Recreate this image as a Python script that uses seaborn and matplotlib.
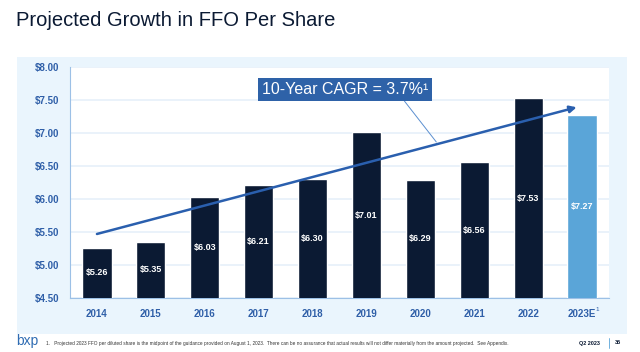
import pandas as pd
import seaborn as sns
import matplotlib.pyplot as plt
from matplotlib.patches import Rectangle

years = ["2014", "2015", "2016", "2017", "2018", "2019", "2020", "2021", "2022", "2023E"]
ffo = [5.26, 5.35, 6.03, 6.21, 6.30, 7.01, 6.29, 6.56, 7.53, 7.27]
value_labels = ["$5.26", "$5.35", "$6.03", "$6.21", "$6.30", "$7.01", "$6.29", "$6.56", "$7.53", "$7.27"]
y_ticks = [4.5, 5.0, 5.5, 6.0, 6.5, 7.0, 7.5, 8.0]
trend_start = 5.47
trend_end = 7.39

navy = "#0b1a33"
light = "#5aa5d8"
tick_blue = "#2f5fa8"

df = pd.DataFrame({"year": years, "ffo": ffo})

sns.set_style("white")
plt.rcParams["font.family"] = ["Liberation Sans", "DejaVu Sans"]

fig = plt.figure(figsize=(6.4, 3.52), dpi=100)
# light blue panel behind the chart
panel = Rectangle((17 / 640, 1 - 334 / 352), 610 / 640, 277 / 352,
                  transform=fig.transFigure, facecolor="#eaf5fd",
                  edgecolor="none", zorder=-10)
fig.patches.append(panel)
ax = fig.add_axes([70 / 640, 1 - 298 / 352, 539 / 640, 231 / 352])
ax.set_zorder(1)
ax.set_facecolor("white")

palette = [navy] * 9 + [light]
sns.barplot(data=df, x="year", y="ffo", hue="year", palette=palette,
            legend=False, width=0.54, ax=ax, zorder=3, saturation=1)

ax.set_ylim(4.5, 8.0)
ax.set_xlim(-0.5, 9.5)
ax.set_yticks(y_ticks)
ax.set_yticklabels([f"${t:.2f}" for t in y_ticks])
ax.yaxis.grid(True, color="#e6f0fa", linewidth=1.2, zorder=0)
ax.set_axisbelow(True)
ax.set_xlabel("")
ax.set_ylabel("")
for s in ["top", "right"]:
    ax.spines[s].set_visible(False)
for s in ["left", "bottom"]:
    ax.spines[s].set_color("#9cc0e6")
ax.tick_params(axis="both", length=0, labelsize=7, labelcolor=tick_blue, pad=8)
ax.set_xticks(range(len(years)))
ax.set_xticklabels(years)
for lab in ax.get_xticklabels() + ax.get_yticklabels():
    lab.set_fontweight("bold")
# footnote marker on 2023E
ax.annotate("1", xy=(9, 4.5), xytext=(10, -8), textcoords="offset points",
            fontsize=4.5, color=tick_blue, ha="left", va="center", annotation_clip=False)

for i, (v, lab) in enumerate(zip(ffo, value_labels)):
    ax.text(i, (4.5 + v) / 2, lab, ha="center", va="center", color="white",
            fontsize=6.5, fontweight="bold", zorder=5)

ax.annotate("", xy=(8.9, trend_end), xytext=(0, trend_start),
            arrowprops=dict(arrowstyle="-|>", color="#2a5fae", lw=1.8,
                            mutation_scale=10, shrinkA=0, shrinkB=0), zorder=6)

# callout leader line + box
ax.plot([(405 - 70) / 54 - 0.5, (437 - 70) / 54 - 0.5],
        [4.5 + (298 - 101) / 66, 4.5 + (298 - 142) / 66],
        color="#5b8fd0", lw=0.7, zorder=6, clip_on=False)
fig.text(345 / 640, 1 - 89.5 / 352, "10-Year CAGR = 3.7%¹", ha="center", va="center",
         color="white", fontsize=11.5, zorder=10,
         bbox=dict(boxstyle="square,pad=0.25", facecolor="#2e62a8", edgecolor="none"))

fig.text(16 / 640, 1 - 21 / 352, "Projected Growth in FFO Per Share", fontsize=14.5,
         color="#0b1a33", va="center", ha="left")
fig.text(16 / 640, 1 - 341 / 352, "bxp", fontsize=10, color="#2f6cb3", va="center")
fig.text(46 / 640, 1 - 343 / 352,
         "1.   Projected 2023 FFO per diluted share is the midpoint of the guidance provided on August 1, 2023.  "
         "There can be no assurance that actual results will not differ materially from the amount projected.  See Appendix.",
         fontsize=3.4, color="#333333", va="center")
fig.text(600 / 640, 1 - 343 / 352, "Q2 2023", fontsize=4, color="#0b1a33",
         fontweight="bold", va="center", ha="right")
fig.text(618 / 640, 1 - 343 / 352, "35", fontsize=4, color="#0b1a33",
         fontweight="bold", va="center", ha="center")
fig.add_artist(plt.Line2D([609 / 640, 609 / 640], [1 - 338 / 352, 1 - 348 / 352],
                          color="#5aa5d8", lw=0.6))

fig.savefig("out.png", dpi=100)
